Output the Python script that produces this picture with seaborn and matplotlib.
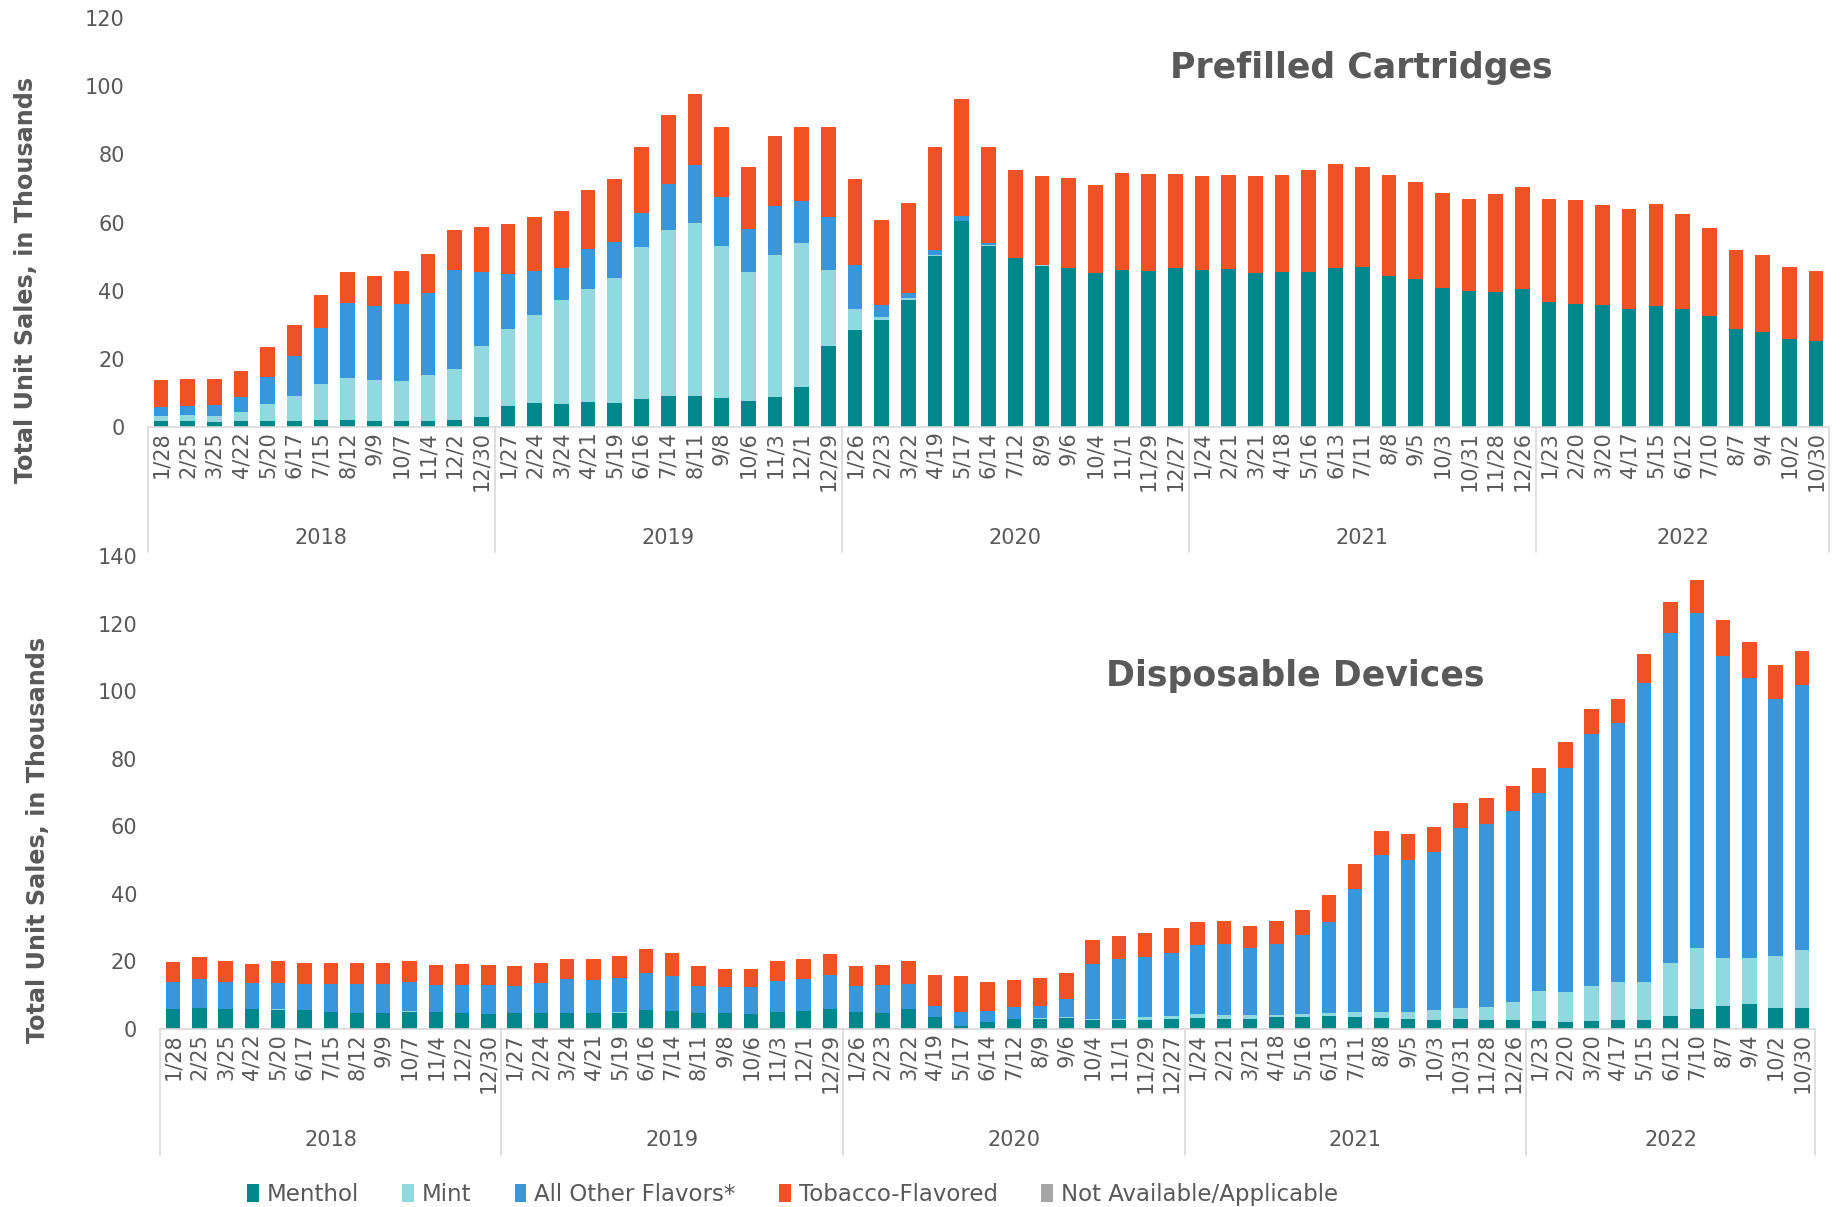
import numpy as np
import matplotlib
matplotlib.use("Agg")
import matplotlib.pyplot as plt
from matplotlib.patches import Patch
import seaborn as sns

# ---- data (thousands of units, 4-week periods) ----
years = ["2018", "2019", "2020", "2021", "2022"]
year_sizes = [13, 13, 13, 13, 11]
dates = ["1/28", "2/25", "3/25", "4/22", "5/20", "6/17", "7/15", "8/12", "9/9", "10/7", "11/4", "12/2", "12/30",
         "1/27", "2/24", "3/24", "4/21", "5/19", "6/16", "7/14", "8/11", "9/8", "10/6", "11/3", "12/1", "12/29",
         "1/26", "2/23", "3/22", "4/19", "5/17", "6/14", "7/12", "8/9", "9/6", "10/4", "11/1", "11/29", "12/27",
         "1/24", "2/21", "3/21", "4/18", "5/16", "6/13", "7/11", "8/8", "9/5", "10/3", "10/31", "11/28", "12/26",
         "1/23", "2/20", "3/20", "4/17", "5/15", "6/12", "7/10", "8/7", "9/4", "10/2", "10/30"]

cart_menthol = [1.7, 1.7, 1.4, 1.7, 1.9, 1.7, 2.0, 2.0, 1.8, 1.7, 1.8, 2.0, 2.9,
                6.1, 7.0, 6.8, 7.2, 7.1, 8.2, 9.0, 9.0, 8.4, 7.5, 8.8, 11.6, 23.7,
                28.4, 31.3, 37.2, 50.2, 60.3, 53.2, 49.5, 47.3, 46.8, 45.2, 46.2, 45.9, 46.7,
                46.0, 46.5, 45.1, 45.5, 45.5, 46.6, 47.0, 44.2, 43.3, 40.7, 39.9, 39.5, 40.5,
                36.8, 36.1, 35.8, 34.7, 35.4, 34.5, 32.7, 28.9, 27.8, 25.8, 25.1]
cart_mint = [1.5, 1.7, 1.9, 2.7, 4.8, 7.3, 10.7, 12.5, 12.0, 11.9, 13.4, 14.9, 20.8,
             22.8, 26.0, 30.4, 33.2, 36.6, 44.6, 48.8, 50.8, 44.7, 37.9, 41.6, 42.4, 22.5,
             6.2, 0.9, 0.6, 0.3, 0.2, 0.2, 0.1, 0.1, 0, 0, 0, 0, 0,
             0, 0, 0, 0, 0, 0, 0, 0, 0, 0, 0, 0, 0,
             0, 0, 0, 0, 0, 0, 0, 0, 0, 0, 0]
cart_other = [2.8, 2.9, 3.2, 4.5, 8.0, 11.7, 16.4, 21.8, 21.6, 22.5, 24.2, 29.3, 21.7,
              16.1, 12.8, 9.6, 11.8, 10.6, 10.0, 13.5, 17.0, 14.5, 12.6, 14.5, 12.4, 15.5,
              12.8, 3.6, 1.5, 1.4, 1.4, 0.5, 0.1, 0.1, 0, 0, 0, 0, 0,
              0, 0, 0, 0, 0, 0, 0, 0, 0, 0, 0, 0, 0,
              0, 0, 0, 0, 0, 0, 0, 0, 0, 0, 0]
cart_tobacco = [7.8, 7.7, 7.6, 7.6, 8.7, 9.2, 9.6, 9.1, 9.0, 9.8, 11.4, 11.6, 13.4,
                14.5, 15.7, 16.6, 17.4, 18.4, 19.4, 20.1, 20.8, 20.4, 18.2, 20.4, 21.5, 26.3,
                25.5, 24.8, 26.3, 30.2, 34.4, 28.3, 25.7, 26.1, 26.2, 25.8, 28.2, 28.2, 27.5,
                27.6, 27.5, 28.6, 28.4, 29.9, 30.5, 29.3, 29.6, 28.6, 28.1, 27.1, 28.9, 29.8,
                30.0, 30.6, 29.2, 29.2, 29.9, 28.0, 25.6, 23.0, 22.8, 21.2, 20.6]

disp_menthol = [5.8, 6.1, 5.8, 5.8, 5.7, 5.5, 4.9, 4.6, 4.6, 5.1, 4.9, 4.6, 4.3,
                4.6, 4.6, 4.6, 4.6, 4.8, 5.5, 5.2, 4.7, 4.6, 4.4, 5.0, 5.2, 5.8,
                4.9, 4.6, 5.8, 3.4, 0.8, 2.1, 2.9, 3.0, 3.2, 2.6, 2.6, 2.6, 3.0,
                3.3, 3.0, 3.0, 3.4, 3.4, 3.7, 3.4, 3.2, 3.0, 2.8, 2.9, 2.8, 2.8,
                2.4, 2.2, 2.5, 2.6, 2.8, 3.7, 6.0, 6.9, 7.4, 6.3, 6.3]
disp_mint = [0.2, 0.2, 0.1, 0.1, 0.1, 0.1, 0.1, 0.1, 0.1, 0.1, 0.1, 0.1, 0.1,
             0.1, 0.1, 0.1, 0.1, 0.1, 0.1, 0.1, 0.1, 0.1, 0.1, 0.1, 0.1, 0.1,
             0.1, 0.1, 0.1, 0.1, 0.2, 0.1, 0.1, 0.3, 0.4, 0.4, 0.4, 0.9, 0.7,
             1.1, 1.2, 1.0, 0.7, 1.0, 1.0, 1.5, 1.8, 2.0, 2.9, 3.3, 3.8, 5.1,
             8.8, 8.6, 10.2, 11.4, 11.1, 15.9, 18.0, 14.1, 13.7, 15.2, 17.1]
disp_other = [7.8, 8.4, 7.9, 7.6, 7.7, 7.8, 8.3, 8.6, 8.6, 8.6, 8.0, 8.2, 8.5,
              8.0, 8.8, 10.0, 9.8, 10.1, 11.0, 10.3, 8.0, 7.7, 8.0, 9.0, 9.4, 10.0,
              7.7, 8.3, 7.3, 3.3, 4.0, 3.0, 3.4, 3.5, 5.3, 16.1, 17.7, 17.7, 18.7,
              20.4, 20.9, 19.9, 21.1, 23.4, 27.0, 36.5, 46.6, 45.0, 46.7, 53.3, 54.0, 56.5,
              58.7, 66.3, 74.5, 76.6, 88.5, 97.7, 99.0, 89.4, 82.8, 76.1, 78.5]
disp_tobacco = [6.0, 6.6, 6.3, 5.8, 6.5, 6.0, 6.3, 6.3, 6.2, 6.4, 6.0, 6.2, 5.9,
                5.8, 6.1, 6.1, 6.3, 6.7, 7.1, 6.8, 5.9, 5.4, 5.2, 6.0, 6.0, 6.3,
                6.0, 5.9, 6.9, 9.2, 10.6, 8.6, 8.1, 8.2, 7.8, 7.2, 6.9, 7.1, 7.4,
                6.8, 7.0, 6.7, 6.7, 7.5, 7.9, 7.5, 7.0, 7.6, 7.4, 7.5, 7.8, 7.4,
                7.3, 7.7, 7.4, 7.2, 8.5, 9.1, 9.8, 10.5, 10.7, 10.2, 10.0]

legend_labels = ["Menthol", "Mint", "All Other Flavors*", "Tobacco-Flavored", "Not Available/Applicable"]
colors = ["#00878B", "#91D9DE", "#3897DA", "#F05125", "#A6A6A6"]

sns.set_style("white")
plt.rcParams["font.family"] = ["DejaVu Sans"]
grey = "#595959"
line_grey = "#D9D9D9"

fig = plt.figure(figsize=(18.43, 12.07), dpi=100)
ax1 = fig.add_axes([0.0801, 0.6462, 0.9125, 0.3389])
ax2 = fig.add_axes([0.0868, 0.1475, 0.8980, 0.3919])


def draw_panel(ax, parts, ymax, sep_depth, year_y):
    cum = np.cumsum(np.array(parts), axis=0)
    # stacked bars: draw cumulative totals from the top segment down
    for i in range(len(parts) - 1, -1, -1):
        sns.barplot(x=dates, y=cum[i], color=colors[i], width=0.55, saturation=1,
                    linewidth=0, errorbar=None, ax=ax)
    ax.set_xlim(-0.5, len(dates) - 0.5)
    ax.set_ylim(0, ymax)
    ax.set_yticks(range(0, ymax + 1, 20))
    ax.set_xlabel("")
    ax.set_ylabel("")
    sns.despine(ax=ax, left=True)
    ax.spines["bottom"].set_color(line_grey)
    ax.spines["bottom"].set_linewidth(1.2)
    ax.tick_params(axis="y", length=0, pad=16.5, labelsize=15, labelcolor=grey)
    ax.tick_params(axis="x", length=0, pad=3, labelsize=15, labelcolor=grey, labelrotation=90)

    # multi-level category axis: year separators and year labels
    trans = ax.get_xaxis_transform()
    bounds = np.concatenate([[0], np.cumsum(year_sizes)]) - 0.5
    for b in bounds:
        ax.plot([b, b], [0, -sep_depth], transform=trans, color=line_grey, lw=1.2, clip_on=False)
    for yr, a, b in zip(years, bounds[:-1], bounds[1:]):
        ax.text((a + b) / 2, year_y, yr, transform=trans, ha="center", va="center",
                fontsize=15, color=grey)


draw_panel(ax1, [cart_menthol, cart_mint, cart_other, cart_tobacco], 120, 0.306, -0.271)
draw_panel(ax2, [disp_menthol, disp_mint, disp_other, disp_tobacco], 140, 0.266, -0.235)

fig.text(0.7385, 0.9437, "Prefilled Cartridges", ha="center", va="center",
         fontsize=25, fontweight="bold", color=grey)
fig.text(0.703, 0.440, "Disposable Devices", ha="center", va="center",
         fontsize=25, fontweight="bold", color=grey)

fig.text(0.0141, 0.768, "Total Unit Sales, in Thousands", rotation=90, ha="center", va="center",
         fontsize=17.2, fontweight="bold", color=grey)
fig.text(0.0206, 0.304, "Total Unit Sales, in Thousands", rotation=90, ha="center", va="center",
         fontsize=17.2, fontweight="bold", color=grey)

handles = [Patch(facecolor=c, edgecolor="none") for c in colors]
fig.legend(handles, legend_labels, loc="center", bbox_to_anchor=(0.430, 0.0105), ncol=5,
           frameon=False, fontsize=16.5, handlelength=0.5, handleheight=0.8,
           handletextpad=0.35, columnspacing=1.9, labelcolor=grey)

fig.savefig("out.png", dpi=100)
